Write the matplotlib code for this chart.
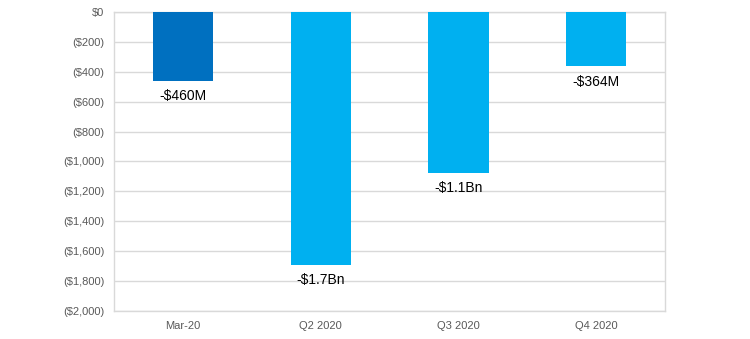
import matplotlib.pyplot as plt
from matplotlib.ticker import FuncFormatter

categories = ["Mar-20", "Q2 2020", "Q3 2020", "Q4 2020"]
values = [-460, -1690, -1075, -364]
labels = ["-$460M", "-$1.7Bn", "-$1.1Bn", "-$364M"]
colors = ["#0070C0", "#00B0F0", "#00B0F0", "#00B0F0"]

plt.rcParams['font.family'] = ['Liberation Sans', 'DejaVu Sans']

fig = plt.figure(figsize=(7.5, 3.39), dpi=100)
ax = fig.add_axes([0.152, 0.0826, 0.735, 0.882])

x = range(len(categories))
ax.bar(x, values, width=0.436, color=colors, zorder=3)

for i, (v, lab) in enumerate(zip(values, labels)):
    ax.annotate(lab, (i, v), xytext=(0, -6), textcoords="offset points",
                ha="center", va="top", fontsize=10, color="#000000")

def money(v, pos):
    if v == 0:
        return "$0"
    return "(${:,.0f})".format(abs(v))

ax.set_ylim(-2000, 0)
ax.set_xlim(-0.5, 3.5)
ax.set_yticks(range(-2000, 1, 200))
ax.yaxis.set_major_formatter(FuncFormatter(money))
ax.set_xticks(list(x))
ax.set_xticklabels(categories)
ax.tick_params(axis="both", length=0, labelsize=8, colors="#595959")
ax.tick_params(axis="y", pad=7)
ax.tick_params(axis="x", pad=7)
ax.grid(axis="y", color="#D9D9D9", linewidth=1, zorder=0)
for s in ax.spines.values():
    s.set_color("#D9D9D9")
    s.set_linewidth(1)

fig.savefig("out.png", dpi=100)
